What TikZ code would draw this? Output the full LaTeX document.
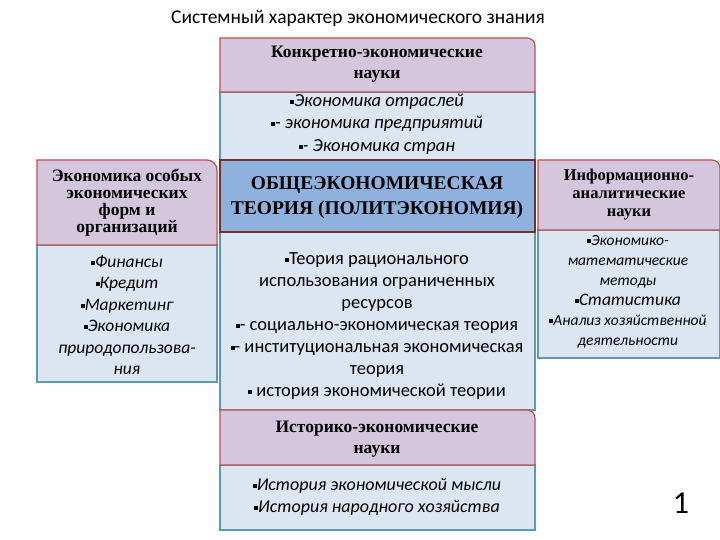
\documentclass[tikz,border=0pt]{standalone}
\usepackage{fontspec}
\setmainfont{Liberation Serif}
\newfontfamily\cb{Carlito}
\definecolor{hdr}{HTML}{D3C6DD}
\definecolor{redb}{HTML}{C0504D}
\definecolor{bdy}{HTML}{DCE6F2}
\definecolor{tealb}{HTML}{5B9BB5}
\definecolor{ctr}{HTML}{8EB1DE}
\newcommand{\sq}{\raisebox{2.5pt}{\rule{4pt}{4pt}}}
\begin{document}
\begin{tikzpicture}[x=1pt,y=-1pt,
  hbox/.style={fill=hdr,draw=redb,line width=1.2pt},
  bbox/.style={fill=bdy,draw=tealb,line width=1.2pt},
  htxt/.style={align=center}]
\useasboundingbox (0,0) rectangle (720,540);
\fill[white] (0,0) rectangle (720,540);
\node[font=\cb\fontsize{19.5}{21}\selectfont] (title) at (358,18) {Системный характер экономического знания};
% top
\draw[bbox] (220,92) rectangle (535,160);
\draw[hbox] (220,92) -- (220,38) -- (527,38) arc[start angle=-90,end angle=0,radius=8] -- (535,92) -- cycle;
\node[htxt,font=\fontsize{17.5}{21}\selectfont\bfseries] (th) at (377,64) {Конкретно-экономические\\науки};
\node[align=center,font=\cb\itshape\fontsize{18.5}{22.5}\selectfont] (tb) at (377,124) {\sq Экономика отраслей\\\sq- экономика предприятий\\\sq- Экономика стран};
% center
\draw[bbox] (220,232) rectangle (535,410);
\draw[fill=ctr,draw=redb!60!black,line width=1.2pt] (220,160) rectangle (535,232);
\node[font=\fontsize{19.5}{25}\selectfont\bfseries,align=center] (ch) at (377,198) {ОБЩЕЭКОНОМИЧЕСКАЯ\\ТЕОРИЯ (ПОЛИТЭКОНОМИЯ)};
\node[align=center,font=\cb\fontsize{18.5}{22}\selectfont] (cb) at (377,326) {\sq Теория рационального\\использования ограниченных\\ресурсов\\\sq- социально-экономическая теория\\\sq- институциональная экономическая\\теория\\\sq\ история экономической теории};
% left
\draw[bbox] (37,245) rectangle (217,382);
\draw[hbox] (37,245) -- (37,160) -- (207,160) arc[start angle=-90,end angle=0,radius=10] -- (217,245) -- cycle;
\node[htxt,font=\fontsize{17.5}{17}\selectfont\bfseries] (lh) at (127,203) {Экономика особых\\экономических\\форм и\\организаций};
\node[align=center,font=\cb\itshape\fontsize{17.5}{21.5}\selectfont] (lb) at (127,315) {\sq Финансы\\\sq Кредит\\\sq Маркетинг\\\sq Экономика\\природопользова-\\ния};
% right
\draw[bbox] (538,230) rectangle (720,358);
\draw[hbox] (538,230) -- (538,160) -- (712,160) arc[start angle=-90,end angle=0,radius=8] -- (720,230) -- cycle;
\node[htxt,font=\fontsize{16.5}{18}\selectfont\bfseries] (rh) at (629,195) {Информационно-\\аналитические\\науки};
\node[align=center,font=\cb\itshape\fontsize{15.5}{20}\selectfont] (rb) at (628,292) {\sq Экономико-\\математические\\методы\\{\fontsize{17.5}{20}\selectfont\sq Статистика}\\\sq Анализ хозяйственной\\деятельности};
% bottom
\draw[bbox] (220,465) rectangle (535,530);
\draw[hbox] (220,465) -- (220,410) -- (527,410) arc[start angle=-90,end angle=0,radius=8] -- (535,465) -- cycle;
\node[htxt,font=\fontsize{17.5}{21}\selectfont\bfseries] (bh) at (377,439) {Историко-экономические\\науки};
\node[align=center,font=\cb\itshape\fontsize{18}{22}\selectfont] (bb) at (377,497) {\sq История экономической мысли\\\sq История народного хозяйства};
\node[font=\cb\fontsize{32}{34}\selectfont] (num) at (681,503) {1};
\end{tikzpicture}
\end{document}
